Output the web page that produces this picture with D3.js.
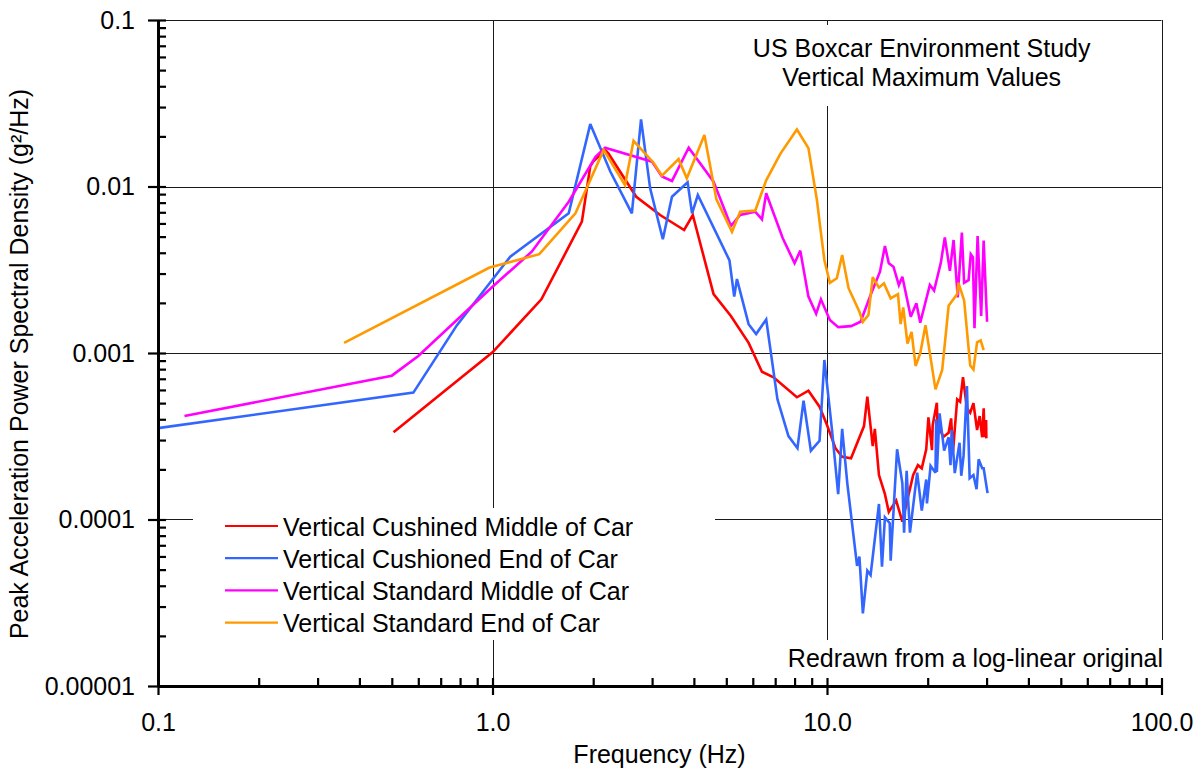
<!DOCTYPE html>
<html>
<head>
<meta charset="utf-8">
<script src="https://cdn.jsdelivr.net/npm/d3@7"></script>
<style>
  html, body { margin: 0; padding: 0; background: #fff; }
  svg { display: block; font-family: "Liberation Sans", Arial, sans-serif; }
</style>
</head>
<body>
<svg id="chart" width="1201" height="774"></svg>
<script>
// ---------- DATA ----------
const seriesNames = [
  "Vertical Cushined Middle of Car",
  "Vertical Cushioned End of Car",
  "Vertical Standard Middle of Car",
  "Vertical Standard End of Car"
];
const seriesColors = ["#ff0000", "#3366ff", "#ff00ff", "#ff9900"];

const redFreq = [0.506,1.0,1.4,1.85,1.96,2.0,2.17,2.22,2.69,3.17,3.74,3.97,4.58,5.16,5.83,6.39,6.92,8.13,8.8,9.5,10.0,10.6,11.1,11.8,12.9,13.2,13.7,13.9,14.3,14.9,15.3,16.1,16.8,17.4,18.1,18.7,19.2,19.8,20.1,20.6,20.7,21.3,21.4,22.3,23.1,23.5,23.8,24.5,25.0,25.5,26.2,26.8,27.4,28.1,28.6,29.1,29.4,29.6,29.9,29.95];
const redPsd = [3.34e-4,1.01e-3,2.1e-3,6.15e-3,1.32e-2,1.41e-2,1.66e-2,1.58e-2,8.68e-3,6.74e-3,5.48e-3,6.74e-3,2.26e-3,1.67e-3,1.15e-3,7.72e-4,7.15e-4,5.42e-4,5.94e-4,4.76e-4,3.69e-4,2.68e-4,2.38e-4,2.33e-4,3.64e-4,5.47e-4,2.76e-4,3.5e-4,1.85e-4,1.42e-4,1.11e-4,1.3e-4,9.7e-5,1.32e-4,1.85e-4,2.12e-4,2.03e-4,2.64e-4,4.11e-4,2.61e-4,3.69e-4,5.03e-4,3.69e-4,3.14e-4,3.32e-4,4.05e-4,2.55e-4,5.27e-4,5.1e-4,7.15e-4,4.66e-4,4.38e-4,4.99e-4,3.45e-4,4.18e-4,3.12e-4,4.66e-4,3.12e-4,3.96e-4,3.07e-4];

const blueFreq = [0.1,0.58,0.783,1.13,1.69,1.96,2.25,2.61,2.78,2.96,3.23,3.44,3.83,3.95,4.11,5.11,5.28,5.38,5.83,6.14,6.58,7.11,7.67,8.16,8.51,8.95,9.5,9.82,10.35,10.8,11.1,11.5,12.3,12.5,12.8,13.2,13.5,14.3,14.6,14.9,15.4,15.5,16.2,16.8,17.0,17.3,17.7,18.6,19.2,19.8,19.9,20.4,21.1,21.2,21.3,21.7,22.4,23.1,23.4,23.6,24.1,24.9,25.2,25.6,26.2,26.7,27.4,28.0,28.4,29.1,29.4,30.2];
const bluePsd = [3.54e-4,5.78e-4,1.47e-3,3.79e-3,6.9e-3,2.37e-2,1.23e-2,6.9e-3,2.53e-2,9.75e-3,4.82e-3,8.68e-3,1.06e-2,6.9e-3,8.89e-3,3.6e-3,2.18e-3,2.78e-3,1.49e-3,1.3e-3,1.59e-3,5.27e-4,3.17e-4,2.68e-4,5.17e-4,2.59e-4,2.97e-4,9.08e-4,3.45e-4,1.42e-4,3.5e-4,1.65e-4,5.26e-5,5.98e-5,2.73e-5,4.93e-5,4.64e-5,1.24e-4,5.21e-5,1.03e-4,9.49e-5,5.66e-5,2.64e-4,1.65e-4,8.33e-5,1.96e-4,8.33e-5,1.91e-4,1.13e-4,1.74e-4,1.25e-4,2.1e-4,1.91e-4,4.0e-4,1.93e-4,4.34e-4,2.59e-4,3.12e-4,2.12e-4,3.45e-4,1.9e-4,2.89e-4,1.83e-4,2.41e-4,6.34e-4,1.77e-4,1.85e-4,1.52e-4,2.3e-4,2.03e-4,2.03e-4,1.44e-4];

const magentaFreq = [0.12,0.5,0.6,1.0,1.31,1.69,2.03,2.17,3.0,3.21,3.44,3.86,4.58,5.16,5.5,6.1,6.39,6.58,7.37,8.0,8.32,8.8,9.28,9.59,10.2,10.8,11.8,12.6,13.5,14.4,14.9,15.3,15.8,16.4,16.8,17.8,18.5,19.0,20.3,20.9,21.9,22.5,23.3,23.9,24.6,25.3,25.7,26.5,26.9,27.3,27.6,28.2,28.9,29.4,30.1];
const magentaPsd = [4.18e-4,7.31e-4,9.6e-4,2.5e-3,4.06e-3,8.1e-3,1.5e-2,1.71e-2,1.41e-2,1.15e-2,1.08e-2,1.71e-2,1.07e-2,5.79e-3,6.74e-3,7.06e-3,6.35e-3,9.1e-3,4.91e-3,3.46e-3,4.12e-3,2.18e-3,1.72e-3,2.1e-3,1.58e-3,1.43e-3,1.45e-3,1.54e-3,2.23e-3,3.08e-3,4.39e-3,3.46e-3,3.3e-3,2.56e-3,2.87e-3,1.65e-3,1.99e-3,1.52e-3,2.56e-3,2.37e-3,3.49e-3,4.95e-3,3.12e-3,4.77e-3,2.16e-3,5.28e-3,2.64e-3,2.74e-3,3.92e-3,3.76e-3,1.41e-3,5.04e-3,1.67e-3,4.73e-3,1.54e-3];

const orangeFreq = [0.36,0.98,1.38,1.77,2.15,2.49,2.64,3.03,3.21,3.6,3.81,4.3,4.67,5.2,5.5,6.1,6.58,7.25,8.13,8.8,9.33,9.54,9.82,10.2,10.7,11.1,11.6,12.5,12.8,13.3,13.7,14.3,14.8,15.5,16.3,16.6,16.9,17.4,17.9,18.4,19.0,19.7,21.1,22.1,23.1,24.5,24.7,25.7,26.8,27.4,28.1,28.8,29.4];
const orangePsd = [1.15e-3,3.26e-3,3.92e-3,6.9e-3,1.66e-2,1.02e-2,1.88e-2,1.39e-2,1.16e-2,1.46e-2,1.12e-2,2.04e-2,8.38e-3,5.35e-3,7.06e-3,7.16e-3,1.09e-2,1.57e-2,2.2e-2,1.7e-2,8.3e-3,5.74e-3,3.62e-3,2.64e-3,2.81e-3,3.88e-3,2.45e-3,1.77e-3,1.54e-3,1.69e-3,2.85e-3,2.47e-3,2.62e-3,2.13e-3,2.26e-3,1.49e-3,1.88e-3,1.14e-3,1.34e-3,8.36e-4,9.96e-4,1.47e-3,6.05e-4,7.91e-4,1.92e-3,2.26e-3,2.65e-3,2.07e-3,8.41e-4,7.96e-4,1.16e-3,1.19e-3,1.04e-3];

const xTickValues = [0.1, 1, 10, 100];
const xTickLabels = ["0.1", "1.0", "10.0", "100.0"];
const yTickValues = [0.1, 0.01, 0.001, 0.0001, 0.00001];
const yTickLabels = ["0.1", "0.01", "0.001", "0.0001", "0.00001"];
const titleLines = ["US Boxcar Environment Study", "Vertical Maximum Values"];
const noteText = "Redrawn from a log-linear original";
const xTitle = "Frequency (Hz)";
const yTitle = "Peak Acceleration Power Spectral Density (g\u00B2/Hz)";

// ---------- LAYOUT ----------
const L = 158, R = 1161.5, T = 20, B = 686;
const FONT = 25;
const svg = d3.select("#chart");

const x = d3.scaleLog().domain([0.1, 100]).range([L, R]);
const y = d3.scaleLog().domain([0.00001, 0.1]).range([B, T]);

const minorX = [];
[0.1, 1, 10].forEach(d => { for (let k = 2; k <= 9; k++) minorX.push(d * k); });
const minorY = [];
[0.00001, 0.0001, 0.001, 0.01].forEach(d => { for (let k = 2; k <= 9; k++) minorY.push(d * k); });

// gridlines
const grid = svg.append("g").attr("stroke", "#1a1a1a").attr("stroke-width", 1);
yTickValues.filter(v => v > 0.00001).forEach(v => {
  grid.append("line").attr("x1", L).attr("x2", R).attr("y1", Math.round(y(v)) + 0.5).attr("y2", Math.round(y(v)) + 0.5);
});
xTickValues.filter(v => v > 0.1).forEach(v => {
  grid.append("line").attr("y1", T).attr("y2", B).attr("x1", Math.round(x(v)) + 0.5).attr("x2", Math.round(x(v)) + 0.5);
});

// white boxes behind title / legend / note
svg.append("rect").attr("x", 745).attr("y", 25).attr("width", 355).attr("height", 81).attr("fill", "#fff");
svg.append("rect").attr("x", 193).attr("y", 508).attr("width", 522).attr("height", 132).attr("fill", "#fff");
svg.append("rect").attr("x", 775).attr("y", 640).attr("width", 392).attr("height", 44).attr("fill", "#fff");

// series
const series = [
  { f: redFreq, p: redPsd },
  { f: blueFreq, p: bluePsd },
  { f: magentaFreq, p: magentaPsd },
  { f: orangeFreq, p: orangePsd }
];
const line = d3.line().x(d => x(d[0])).y(d => y(d[1]));
series.forEach((s, i) => {
  const pts = s.f.map((f, j) => [f, s.p[j]]);
  svg.append("path").datum(pts)
    .attr("d", line)
    .attr("fill", "none")
    .attr("stroke", seriesColors[i])
    .attr("stroke-width", 2.6)
    .attr("stroke-linejoin", "miter")
    .attr("stroke-miterlimit", 3);
});

// axes
function styleAxis(g) {
  g.selectAll(".tick line").attr("stroke", "#000").attr("stroke-width", 2.2);
  g.select(".domain").attr("stroke", "#000").attr("stroke-width", 2.8);
}
// x minor (inward)
svg.append("g").attr("transform", `translate(0,${B})`)
  .call(d3.axisBottom(x).tickValues(minorX.concat(xTickValues)).tickSizeInner(-8).tickSizeOuter(0).tickFormat(""))
  .call(styleAxis);
// x major (outward, labelled)
const xAx = svg.append("g").attr("transform", `translate(0,${B})`)
  .call(d3.axisBottom(x).tickValues(xTickValues).tickSizeInner(9).tickSizeOuter(0)
    .tickFormat((d, i) => xTickLabels[i]))
  .call(styleAxis);
xAx.selectAll("text").attr("y", 45).attr("dy", 0).attr("font-size", FONT)
  .attr("font-family", "Liberation Sans, Arial, sans-serif").attr("fill", "#000");

// y minor (inward)
svg.append("g").attr("transform", `translate(${L},0)`)
  .call(d3.axisLeft(y).tickValues(minorY.concat(yTickValues)).tickSizeInner(-8).tickSizeOuter(0).tickFormat(""))
  .call(styleAxis);
const yAx = svg.append("g").attr("transform", `translate(${L},0)`)
  .call(d3.axisLeft(y).tickValues(yTickValues).tickSizeInner(10).tickSizeOuter(0)
    .tickFormat((d, i) => yTickLabels[i]))
  .call(styleAxis);
yAx.selectAll("text").attr("x", -23).attr("dy", "0.32em").attr("font-size", FONT)
  .attr("font-family", "Liberation Sans, Arial, sans-serif").attr("fill", "#000");

// redraw x domain on top cleanly
// axis titles
svg.append("text").attr("x", 659.5).attr("y", 763).attr("text-anchor", "middle")
  .attr("font-size", FONT).attr("fill", "#000").text(xTitle);
svg.append("text").attr("transform", "translate(28,364) rotate(-90)").attr("text-anchor", "middle")
  .attr("font-size", FONT).attr("fill", "#000").text(yTitle);

// title
titleLines.forEach((t, i) => {
  svg.append("text").attr("x", 921.7).attr("y", 57 + i * 29).attr("text-anchor", "middle")
    .attr("font-size", FONT).attr("fill", "#000").text(t);
});
// note
svg.append("text").attr("x", 1163).attr("y", 667).attr("text-anchor", "end")
  .attr("font-size", FONT).attr("fill", "#000").text(noteText);

// legend
const lg = svg.append("g");
seriesNames.forEach((n, i) => {
  const yy = 526 + i * 32.2;
  lg.append("line").attr("x1", 225).attr("x2", 278).attr("y1", yy).attr("y2", yy)
    .attr("stroke", seriesColors[i]).attr("stroke-width", 2.2);
  lg.append("text").attr("x", 283).attr("y", yy + 9.5).attr("font-size", FONT)
    .attr("fill", "#000").text(n);
});
</script>
</body>
</html>
